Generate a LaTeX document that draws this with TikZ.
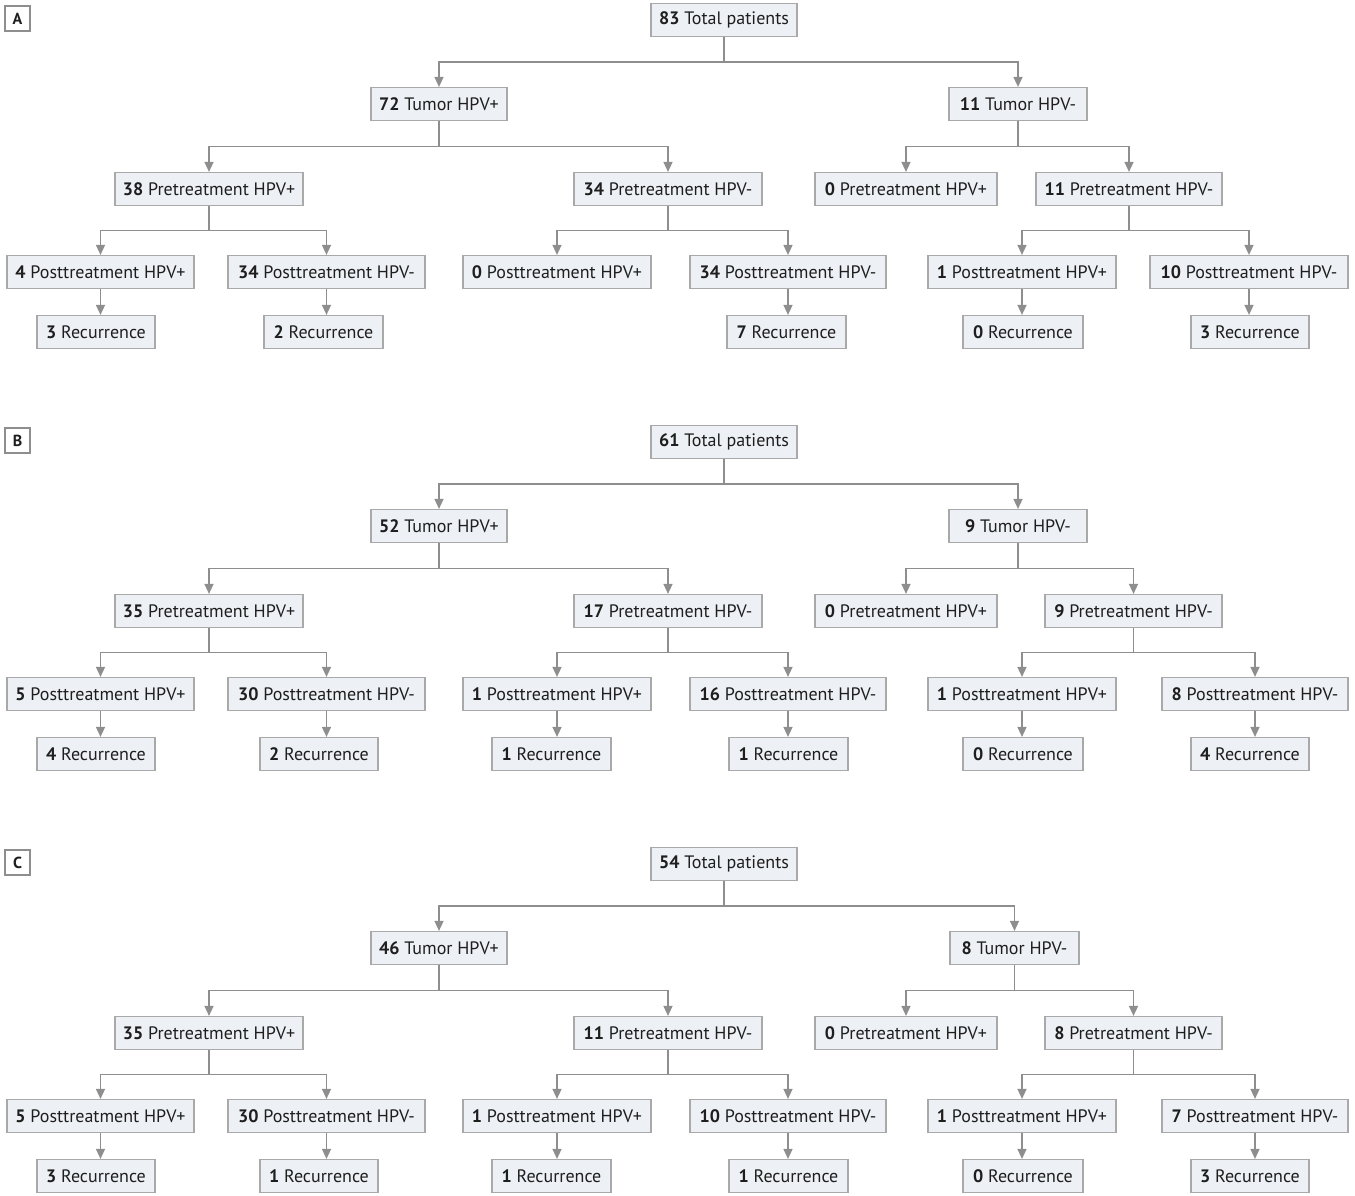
\documentclass[tikz,border=0pt]{standalone}
\usepackage{fontspec}
\setmainfont{PT Sans}
\usetikzlibrary{arrows.meta,calc}
\definecolor{boxfill}{HTML}{EDF0F4}
\definecolor{boxline}{HTML}{A9A9A9}
\definecolor{linec}{HTML}{8E8E8E}
\definecolor{txt}{HTML}{1E1E1E}
\newcommand{\bx}[6]{%
  \pgfmathsetmacro\bw{(#3-#2)*0.5}%
  \pgfmathsetmacro\bc{(#2+#3)/2}%
  \node[box, minimum width=\bw pt] (#1) at (\bc,#4) {\textbf{#5} #6};}
\newcommand{\br}[2]{\draw[arr] (#1.south) |- ($(#1.south)!0.5!(#2.north)$) -| (#2.north);}
\newcommand{\dn}[2]{\draw[arr] (#1.south) -- (#1.south |- #2.north);}
\newcommand{\tree}[1]{%
  \br{#1tot}{#1t1}\br{#1tot}{#1t2}%
  \br{#1t1}{#1p1}\br{#1t1}{#1p2}\br{#1t2}{#1p3}\br{#1t2}{#1p4}%
  \br{#1p1}{#1q1}\br{#1p1}{#1q2}\br{#1p2}{#1q3}\br{#1p2}{#1q4}\br{#1p4}{#1q5}\br{#1p4}{#1q6}%
  \dn{#1q1}{#1r1}\dn{#1q2}{#1r2}\dn{#1q4}{#1r4}\dn{#1q5}{#1r5}\dn{#1q6}{#1r6}}
\begin{document}
\begin{tikzpicture}[x=0.5pt,y=-0.5pt,
  box/.style={draw=boxline, fill=boxfill, line width=0.6pt, minimum height=16.5pt,
    inner sep=0pt, text=txt, font=\fontsize{9}{10}\selectfont},
  arr/.style={draw=linec, line width=0.75pt, -{Triangle[width=4.5pt,length=5pt]}},
  lab/.style={draw=linec, fill=white, line width=0.6pt, minimum width=12.5pt, minimum height=12.5pt,
    inner sep=0pt, text=txt, font=\fontsize{8}{9}\selectfont\bfseries}]
\useasboundingbox (0,0) rectangle (1355,1195);
% ---------- Panel A ----------
\def\dy{0}
\node[lab] (Alab) at (17.5,18.5) {A};
\bx{Atot}{651}{797}{\dy+20}{83}{Total patients}
\bx{At1}{371}{507}{\dy+104}{72}{Tumor HPV+}
\bx{At2}{949}{1087}{\dy+104}{11}{Tumor HPV-}
\bx{Ap1}{115}{303}{\dy+189}{38}{Pretreatment HPV+}
\bx{Ap2}{574}{762}{\dy+189}{34}{Pretreatment HPV-}
\bx{Ap3}{815}{997}{\dy+189}{0}{Pretreatment HPV+}
\bx{Ap4}{1036}{1222}{\dy+189}{11}{Pretreatment HPV-}
\bx{Aq1}{7}{194}{\dy+272}{4}{Posttreatment HPV+}
\bx{Aq2}{228}{425}{\dy+272}{34}{Posttreatment HPV-}
\bx{Aq3}{463}{651}{\dy+272}{0}{Posttreatment HPV+}
\bx{Aq4}{690}{886}{\dy+272}{34}{Posttreatment HPV-}
\bx{Aq5}{928}{1116}{\dy+272}{1}{Posttreatment HPV+}
\bx{Aq6}{1150}{1348}{\dy+272}{10}{Posttreatment HPV-}
\bx{Ar1}{37}{155}{\dy+332}{3}{Recurrence}
\bx{Ar2}{264}{383}{\dy+332}{2}{Recurrence}
\bx{Ar4}{727}{846}{\dy+332}{7}{Recurrence}
\bx{Ar5}{963}{1083}{\dy+332}{0}{Recurrence}
\bx{Ar6}{1191}{1309}{\dy+332}{3}{Recurrence}
\tree{A}
% ---------- Panel B ----------
\def\dy{422}
\node[lab] (Blab) at (17.5,18.5+422) {B};
\bx{Btot}{651}{797}{\dy+20}{61}{Total patients}
\bx{Bt1}{371}{507}{\dy+104}{52}{Tumor HPV+}
\bx{Bt2}{949}{1087}{\dy+104}{9}{Tumor HPV-}
\bx{Bp1}{115}{303}{\dy+189}{35}{Pretreatment HPV+}
\bx{Bp2}{574}{762}{\dy+189}{17}{Pretreatment HPV-}
\bx{Bp3}{815}{997}{\dy+189}{0}{Pretreatment HPV+}
\bx{Bp4}{1045}{1222}{\dy+189}{9}{Pretreatment HPV-}
\bx{Bq1}{7}{194}{\dy+272}{5}{Posttreatment HPV+}
\bx{Bq2}{228}{425}{\dy+272}{30}{Posttreatment HPV-}
\bx{Bq3}{463}{651}{\dy+272}{1}{Posttreatment HPV+}
\bx{Bq4}{690}{886}{\dy+272}{16}{Posttreatment HPV-}
\bx{Bq5}{928}{1116}{\dy+272}{1}{Posttreatment HPV+}
\bx{Bq6}{1162}{1348}{\dy+272}{8}{Posttreatment HPV-}
\bx{Br1}{37}{155}{\dy+332}{4}{Recurrence}
\bx{Br2}{260}{378}{\dy+332}{2}{Recurrence}
\bx{Br3}{492}{611}{\dy+332}{1}{Recurrence}
\bx{Br4}{729}{848}{\dy+332}{1}{Recurrence}
\bx{Br5}{963}{1083}{\dy+332}{0}{Recurrence}
\bx{Br6}{1191}{1309}{\dy+332}{4}{Recurrence}
\tree{B}
\dn{Bq3}{Br3}
% ---------- Panel C ----------
\def\dy{844}
\node[lab] (Clab) at (17.5,18.5+844) {C};
\bx{Ctot}{651}{797}{\dy+20}{54}{Total patients}
\bx{Ct1}{371}{507}{\dy+104}{46}{Tumor HPV+}
\bx{Ct2}{950}{1079}{\dy+104}{8}{Tumor HPV-}
\bx{Cp1}{115}{303}{\dy+189}{35}{Pretreatment HPV+}
\bx{Cp2}{574}{762}{\dy+189}{11}{Pretreatment HPV-}
\bx{Cp3}{815}{997}{\dy+189}{0}{Pretreatment HPV+}
\bx{Cp4}{1045}{1222}{\dy+189}{8}{Pretreatment HPV-}
\bx{Cq1}{7}{194}{\dy+272}{5}{Posttreatment HPV+}
\bx{Cq2}{228}{425}{\dy+272}{30}{Posttreatment HPV-}
\bx{Cq3}{463}{651}{\dy+272}{1}{Posttreatment HPV+}
\bx{Cq4}{690}{886}{\dy+272}{10}{Posttreatment HPV-}
\bx{Cq5}{928}{1116}{\dy+272}{1}{Posttreatment HPV+}
\bx{Cq6}{1162}{1348}{\dy+272}{7}{Posttreatment HPV-}
\bx{Cr1}{37}{155}{\dy+332}{3}{Recurrence}
\bx{Cr2}{260}{378}{\dy+332}{1}{Recurrence}
\bx{Cr3}{492}{611}{\dy+332}{1}{Recurrence}
\bx{Cr4}{729}{848}{\dy+332}{1}{Recurrence}
\bx{Cr5}{963}{1083}{\dy+332}{0}{Recurrence}
\bx{Cr6}{1191}{1309}{\dy+332}{3}{Recurrence}
\tree{C}
\dn{Cq3}{Cr3}
\end{tikzpicture}
\end{document}
